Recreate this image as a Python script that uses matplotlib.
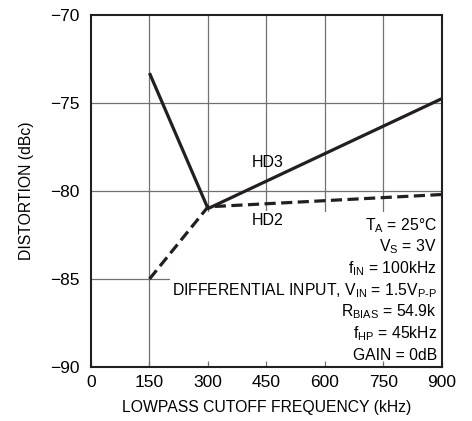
import matplotlib
matplotlib.use("Agg")
import matplotlib.pyplot as plt
from matplotlib.patches import Rectangle

plt.rcParams["font.family"] = ["Liberation Sans", "DejaVu Sans"]
plt.rcParams["mathtext.fontset"] = "custom"
plt.rcParams["mathtext.rm"] = "Liberation Sans"
plt.rcParams["axes.unicode_minus"] = True

FREQ = [150, 300, 900]
HD3 = [-73.3, -81.0, -74.75]
HD2 = [-85.0, -80.9, -80.2]
XTICKS = [0, 150, 300, 450, 600, 750, 900]
YTICKS = [-90, -85, -80, -75, -70]
NOTES = [
    r"T$_\mathregular{A}$ = 25°C",
    r"V$_\mathregular{S}$ = 3V",
    r"f$_\mathregular{IN}$ = 100kHz",
    "DIFFERENTIAL INPUT, V$_\\mathregular{IN}$ = 1.5V$_\\mathregular{P\u2010P}$",
    r"R$_\mathregular{BIAS}$ = 54.9k",
    r"f$_\mathregular{HP}$ = 45kHz",
    "GAIN = 0dB",
]

fig = plt.figure(figsize=(4.72, 4.21), dpi=100)
ax = fig.add_axes([0.1928, 0.1283, 0.7436, 0.8361])
ax.set_xlim(0, 900)
ax.set_ylim(-90, -70)

# grid drawn by hand so the note block can blank it out
for x in XTICKS[1:-1]:
    ax.axvline(x, color="#707070", lw=0.9, zorder=0.5)
for y in YTICKS[1:-1]:
    ax.axhline(y, color="#707070", lw=0.9, zorder=0.5)
ax.add_patch(Rectangle((202, -90), 698, 8.8, facecolor="white", edgecolor="none", zorder=1))

ax.plot(FREQ, HD3, color="#231f20", lw=2.3, solid_capstyle="butt", zorder=3)
ax.plot(FREQ, HD2, color="#231f20", lw=2.3, dashes=(3.5, 1.7), zorder=3)

ax.text(412, -78.4, "HD3", fontsize=11.5, va="center", ha="left", zorder=4)
ax.text(412, -81.65, "HD2", fontsize=11.5, va="center", ha="left", zorder=4,
        bbox=dict(facecolor="white", edgecolor="none", pad=1))

for i, s in enumerate(NOTES):
    ax.text(0.986, 0.389 - i * 0.0615, s, transform=ax.transAxes, fontsize=11.3,
            ha="right", va="baseline", zorder=4)

ax.set_xticks(XTICKS)
ax.set_yticks(YTICKS)
ax.set_yticklabels([f"\u2212{abs(v)}" for v in YTICKS])
ax.tick_params(axis="x", direction="in", length=4, width=0.9, color="#707070",
               labelsize=12.5, pad=6)
ax.tick_params(axis="y", length=0, labelsize=12.5, pad=8)
for sp in ax.spines.values():
    sp.set_linewidth(1.5)
    sp.set_color("#231f20")

ax.set_xlabel("LOWPASS CUTOFF FREQUENCY (kHz)", fontsize=11.3, labelpad=7)
ax.set_ylabel("DISTORTION (dBc)", fontsize=11.3, labelpad=12)

fig.savefig("out.png", dpi=100)
